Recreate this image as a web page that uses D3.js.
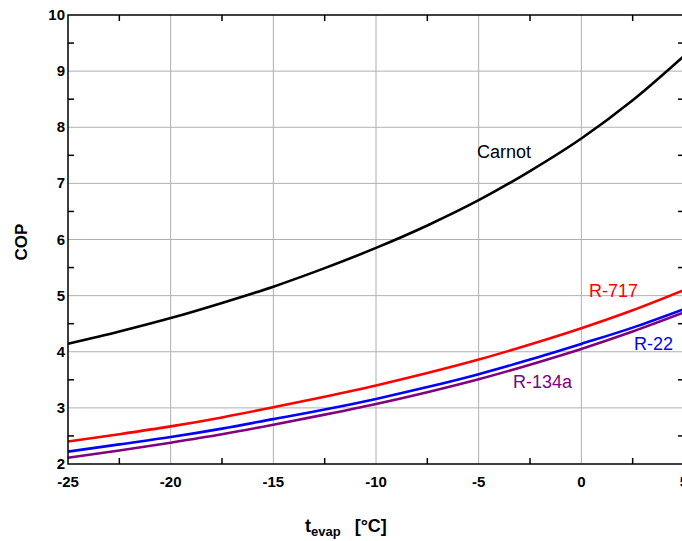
<!DOCTYPE html>
<html>
<head>
<meta charset="utf-8">
<script src="https://cdn.jsdelivr.net/npm/d3@7"></script>
<style>
  body { margin: 0; background: #fff; }
  svg { display: block; font-family: Arial, "Liberation Sans", sans-serif; }
</style>
</head>
<body>
<div id="chart"></div>
<script>
const temps = [-25, -22.5, -20, -17.5, -15, -12.5, -10, -7.5, -5, -2.5, 0, 2.5, 5];
const carnot = [4.14, 4.36, 4.60, 4.87, 5.16, 5.49, 5.85, 6.25, 6.70, 7.22, 7.80, 8.48, 9.27];
const r717 = [2.40, 2.53, 2.67, 2.83, 3.01, 3.20, 3.40, 3.62, 3.86, 4.13, 4.42, 4.74, 5.10];
const r22 = [2.22, 2.35, 2.48, 2.63, 2.80, 2.97, 3.16, 3.37, 3.60, 3.86, 4.14, 4.43, 4.76];
const r134a = [2.11, 2.24, 2.38, 2.53, 2.70, 2.88, 3.07, 3.28, 3.51, 3.77, 4.05, 4.36, 4.70];
const xTicks = [-25, -20, -15, -10, -5, 0, 5];
const yTicks = [2, 3, 4, 5, 6, 7, 8, 9, 10];

const series = [
  { name: "Carnot", values: carnot, color: "#000000", lx: 477, ly: 158 },
  { name: "R-717", values: r717, color: "#ff0000", lx: 589, ly: 297 },
  { name: "R-22", values: r22, color: "#0000ff", lx: 634, ly: 350 },
  { name: "R-134a", values: r134a, color: "#800080", lx: 513, ly: 388 }
];

const width = 682, height = 541;
const plotL = 68, plotR = 684, plotT = 15, plotB = 464;

const svg = d3.select("#chart").append("svg")
  .attr("width", width)
  .attr("height", height);

const x = d3.scaleLinear().domain([-25, 5]).range([plotL, plotR]);
const y = d3.scaleLinear().domain([2, 10]).range([plotB, plotT]);

// grid
svg.append("g")
  .selectAll("line")
  .data(xTicks.slice(1, -1))
  .join("line")
  .attr("x1", d => x(d)).attr("x2", d => x(d))
  .attr("y1", plotT).attr("y2", plotB)
  .attr("stroke", "#b0b0b0").attr("stroke-width", 1);
svg.append("g")
  .selectAll("line")
  .data(yTicks.slice(1, -1))
  .join("line")
  .attr("x1", plotL).attr("x2", plotR)
  .attr("y1", d => y(d)).attr("y2", d => y(d))
  .attr("stroke", "#b0b0b0").attr("stroke-width", 1);

// minor ticks
const xMinor = xTicks.slice(0, -1).map(d => d + 2.5);
const yMinor = yTicks.slice(0, -1).map(d => d + 0.5);
const ticks = svg.append("g").attr("stroke", "#000").attr("stroke-width", 1.5);
xMinor.forEach(d => {
  ticks.append("line").attr("x1", x(d)).attr("x2", x(d)).attr("y1", plotB).attr("y2", plotB - 6);
  ticks.append("line").attr("x1", x(d)).attr("x2", x(d)).attr("y1", plotT).attr("y2", plotT + 6);
});
yMinor.forEach(d => {
  ticks.append("line").attr("x1", plotL).attr("x2", plotL + 6).attr("y1", y(d)).attr("y2", y(d));
  ticks.append("line").attr("x1", plotR - 6).attr("x2", plotR).attr("y1", y(d)).attr("y2", y(d));
});

// curves
const line = d3.line()
  .x((d, i) => x(temps[i]))
  .y(d => y(d))
  .curve(d3.curveMonotoneX);

series.forEach(s => {
  svg.append("path")
    .datum(s.values)
    .attr("fill", "none")
    .attr("stroke", s.color)
    .attr("stroke-width", 2.6)
    .attr("d", line);
  svg.append("text")
    .attr("x", s.lx).attr("y", s.ly)
    .attr("fill", s.color)
    .attr("font-size", 18)
    .text(s.name);
});

// frame
svg.append("rect")
  .attr("x", plotL).attr("y", plotT)
  .attr("width", plotR - plotL).attr("height", plotB - plotT)
  .attr("fill", "none").attr("stroke", "#000").attr("stroke-width", 1.5);

// tick labels
svg.append("g")
  .selectAll("text")
  .data(xTicks)
  .join("text")
  .attr("x", d => x(d)).attr("y", 487)
  .attr("text-anchor", "middle")
  .attr("font-size", 15).attr("font-weight", "bold")
  .text(d => d);
svg.append("g")
  .selectAll("text")
  .data(yTicks)
  .join("text")
  .attr("x", 65).attr("y", d => y(d) + 5)
  .attr("text-anchor", "end")
  .attr("font-size", 15).attr("font-weight", "bold")
  .text(d => d);

// axis titles
const xl = svg.append("text")
  .attr("x", 305).attr("y", 532)
  .attr("font-size", 18).attr("font-weight", "bold");
xl.append("tspan").text("t");
xl.append("tspan").attr("font-size", 13).attr("dy", 4).text("evap");
xl.append("tspan").attr("dy", -4).attr("dx", 14).text("[°C]");

svg.append("text")
  .attr("transform", "translate(27,242) rotate(-90)")
  .attr("text-anchor", "middle")
  .attr("font-size", 17).attr("font-weight", "bold")
  .text("COP");
</script>
</body>
</html>
